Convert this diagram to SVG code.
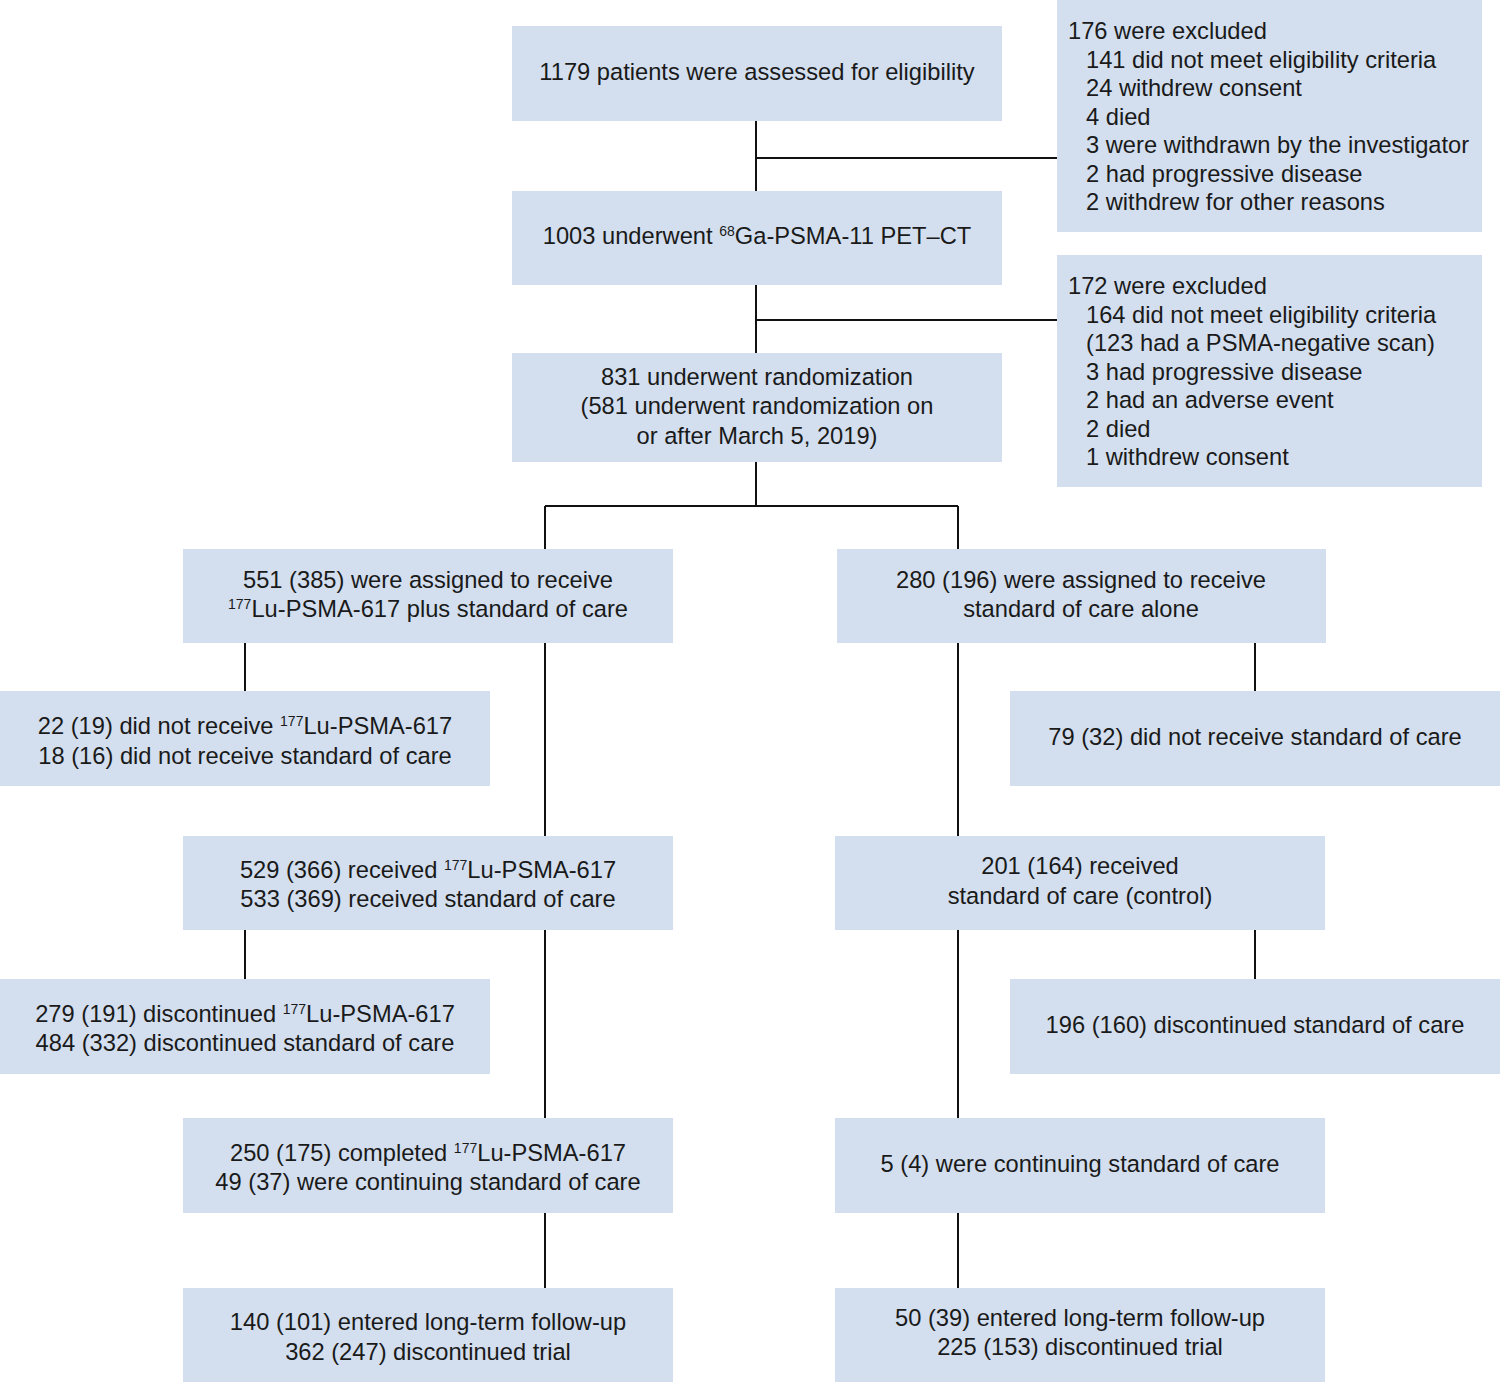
<svg xmlns="http://www.w3.org/2000/svg" width="1500" height="1382" viewBox="0 0 1500 1382">
<style>
.b{fill:#d3dfef}
text{font-family:"Liberation Sans",Arial,sans-serif;font-size:23.7px;fill:#1a1a1a}
.c{text-anchor:middle}
.s{font-size:14px}
#connectors path{stroke:#111;stroke-width:2;fill:none}
</style>
<rect width="1500" height="1382" fill="#fff"/>
<g id="connectors">
<path d="M756 121V191M756 158H1057M756 285V353M756 320H1057M756 462V506M545 506H958M545 506V549M958 506V549"/>
<path d="M545 643V836M545 930V1118M545 1213V1288M245 643V691M245 930V979"/>
<path d="M958 643V836M958 930V1118M958 1213V1288M1255 643V691M1255 930V979"/>
</g>
<g id="n1"><rect class="b" x="512" y="26" width="490" height="95"/><text class="c" x="757" y="80">1179 patients were assessed for eligibility</text></g>
<g id="x1"><rect class="b" x="1057" y="0" width="425" height="232"/>
<text x="1068" y="39">176 were excluded</text>
<text x="1086" y="68">141 did not meet eligibility criteria</text>
<text x="1086" y="96">24 withdrew consent</text>
<text x="1086" y="125">4 died</text>
<text x="1086" y="153">3 were withdrawn by the investigator</text>
<text x="1086" y="182">2 had progressive disease</text>
<text x="1086" y="210">2 withdrew for other reasons</text></g>
<g id="n2"><rect class="b" x="512" y="191" width="490" height="94"/><text class="c" x="757" y="244">1003 underwent <tspan class="s" dy="-8">68</tspan><tspan dy="8">Ga-PSMA-11 PET–CT</tspan></text></g>
<g id="x2"><rect class="b" x="1057" y="255" width="425" height="232"/>
<text x="1068" y="294">172 were excluded</text>
<text x="1086" y="323">164 did not meet eligibility criteria</text>
<text x="1086" y="351">(123 had a PSMA-negative scan)</text>
<text x="1086" y="380">3 had progressive disease</text>
<text x="1086" y="408">2 had an adverse event</text>
<text x="1086" y="437">2 died</text>
<text x="1086" y="465">1 withdrew consent</text></g>
<g id="n3"><rect class="b" x="512" y="353" width="490" height="109"/>
<text class="c" x="757" y="385">831 underwent randomization</text>
<text class="c" x="757" y="414">(581 underwent randomization on</text>
<text class="c" x="757" y="444">or after March 5, 2019)</text></g>
<g id="a1"><rect class="b" x="183" y="549" width="490" height="94"/>
<text class="c" x="428" y="588">551 (385) were assigned to receive</text>
<text class="c" x="428" y="617"><tspan class="s" dy="-8">177</tspan><tspan dy="8">Lu-PSMA-617 plus standard of care</tspan></text></g>
<g id="b1"><rect class="b" x="837" y="549" width="489" height="94"/>
<text class="c" x="1081" y="588">280 (196) were assigned to receive</text>
<text class="c" x="1081" y="617">standard of care alone</text></g>
<g id="a2"><rect class="b" x="0" y="691" width="490" height="95"/>
<text class="c" x="245" y="734">22 (19) did not receive <tspan class="s" dy="-8">177</tspan><tspan dy="8">Lu-PSMA-617</tspan></text>
<text class="c" x="245" y="764">18 (16) did not receive standard of care</text></g>
<g id="b2"><rect class="b" x="1010" y="691" width="490" height="95"/>
<text class="c" x="1255" y="745">79 (32) did not receive standard of care</text></g>
<g id="a3"><rect class="b" x="183" y="836" width="490" height="94"/>
<text class="c" x="428" y="878">529 (366) received <tspan class="s" dy="-8">177</tspan><tspan dy="8">Lu-PSMA-617</tspan></text>
<text class="c" x="428" y="907">533 (369) received standard of care</text></g>
<g id="b3"><rect class="b" x="835" y="836" width="490" height="94"/>
<text class="c" x="1080" y="874">201 (164) received</text>
<text class="c" x="1080" y="904">standard of care (control)</text></g>
<g id="a4"><rect class="b" x="0" y="979" width="490" height="95"/>
<text class="c" x="245" y="1022">279 (191) discontinued <tspan class="s" dy="-8">177</tspan><tspan dy="8">Lu-PSMA-617</tspan></text>
<text class="c" x="245" y="1051">484 (332) discontinued standard of care</text></g>
<g id="b4"><rect class="b" x="1010" y="979" width="490" height="95"/>
<text class="c" x="1255" y="1033">196 (160) discontinued standard of care</text></g>
<g id="a5"><rect class="b" x="183" y="1118" width="490" height="95"/>
<text class="c" x="428" y="1161">250 (175) completed <tspan class="s" dy="-8">177</tspan><tspan dy="8">Lu-PSMA-617</tspan></text>
<text class="c" x="428" y="1190">49 (37) were continuing standard of care</text></g>
<g id="b5"><rect class="b" x="835" y="1118" width="490" height="95"/>
<text class="c" x="1080" y="1172">5 (4) were continuing standard of care</text></g>
<g id="a6"><rect class="b" x="183" y="1288" width="490" height="94"/>
<text class="c" x="428" y="1330">140 (101) entered long-term follow-up</text>
<text class="c" x="428" y="1360">362 (247) discontinued trial</text></g>
<g id="b6"><rect class="b" x="835" y="1288" width="490" height="94"/>
<text class="c" x="1080" y="1326">50 (39) entered long-term follow-up</text>
<text class="c" x="1080" y="1355">225 (153) discontinued trial</text></g>
</svg>
